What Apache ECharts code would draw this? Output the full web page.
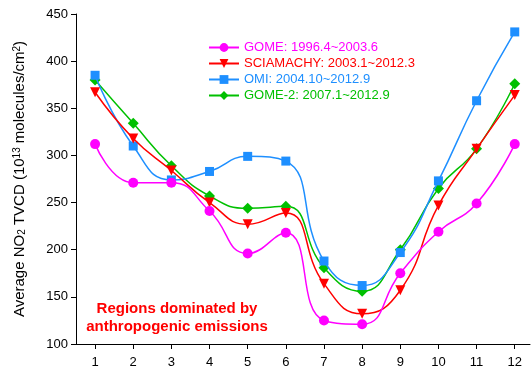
<!DOCTYPE html>
<html><head><meta charset="utf-8">
<script src="https://cdn.jsdelivr.net/npm/echarts@6/dist/echarts.min.js"></script>
<style>html,body{margin:0;padding:0;background:#fff}#c{width:531px;height:371px}</style>
</head><body><div id="c"></div>
<script>
const months = [1,2,3,4,5,6,7,8,9,10,11,12];
const yTicks = [100,150,200,250,300,350,400,450];
const gome = [312,271,271,241,196,218,125,121,175,219,249,312];
const sciamachy = [367,318,284,250,227,239,164,132,157,247,307,364];
const omi = [385,310,274,283,299,294,188,162,197,273,358,431];
const gome2 = [380,334,289,257,244,246,181,156,200,265,307,376];
const names = ['GOME: 1996.4~2003.6','SCIAMACHY: 2003.1~2012.3','OMI: 2004.10~2012.9','GOME-2: 2007.1~2012.9'];
const colors = ['#ff00ff','#ff0000','#1e8fff','#00c000'];
const symbols = ['circle','triangle','rect','diamond'];
const sizes = [10,10,9,11];
const allData = [gome, sciamachy, omi, gome2];

const chart = echarts.init(document.getElementById('c'), null, {renderer:'canvas'});
const font = 'Arial, "Liberation Sans", sans-serif';
chart.setOption({
  animation:false,
  grid:{left:76, top:14, right:1, bottom:27},
  xAxis:{type:'value', min:0.5, max:12.4,
    axisLine:{lineStyle:{color:'#000', width:1}},
    axisTick:{customValues:months, length:5, lineStyle:{color:'#000'}},
    axisLabel:{customValues:months, color:'#000', fontSize:13, fontFamily:font, margin:12},
    splitLine:{show:false}},
  yAxis:{type:'value', min:100, max:450, interval:50,
    axisLine:{show:true, lineStyle:{color:'#000', width:1}},
    axisTick:{show:true, length:5, lineStyle:{color:'#000'}},
    axisLabel:{color:'#000', fontSize:13, fontFamily:font, margin:8},
    splitLine:{show:false},
    name:'Average NO{sub|2} TVCD (10{sup|13} molecules/cm{sup|2})',
    nameLocation:'middle', nameRotate:90, nameGap:49,
    nameTextStyle:{color:'#000', fontSize:15, fontFamily:font,
      rich:{sub:{fontSize:10, verticalAlign:'bottom', fontFamily:font, color:'#000'},
            sup:{fontSize:10, verticalAlign:'top', fontFamily:font, color:'#000'}}}
  },
  legend:{orient:'vertical', left:203, top:36, itemWidth:30, itemHeight:11, itemGap:3,
    textStyle:{fontSize:13, fontFamily:font},
    data:names.map((n,i)=>({name:n, textStyle:{color:colors[i]}}))},
  graphic:[{type:'text', x:177, y:300, style:{
      text:'Regions dominated by\nanthropogenic emissions', fill:'#ff0000',
      font:'bold 15px Arial, "Liberation Sans", sans-serif', textAlign:'center', textVerticalAlign:'top', lineHeight:18}}],
  series: allData.map((d,i)=>({
    name:names[i], type:'line', smooth:0.5,
    data:months.map((m,j)=>[m,d[j]]),
    symbol:symbols[i], symbolSize:sizes[i], symbolRotate: i===1?180:0,
    itemStyle:{color:colors[i]}, lineStyle:{color:colors[i], width:1.5}, z: 10-i
  }))
});
</script></body></html>
